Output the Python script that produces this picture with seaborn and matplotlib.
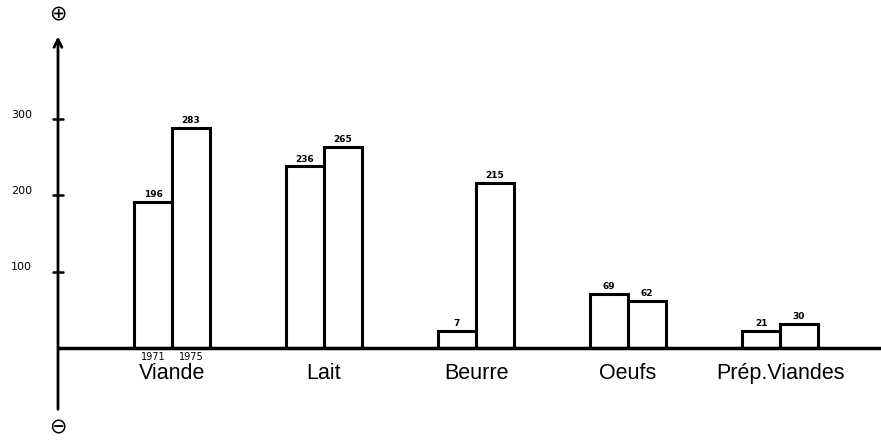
import pandas as pd
import seaborn as sns
import matplotlib.pyplot as plt

# values
categories = ["Viande", "Lait", "Beurre", "Oeufs", "Prép.Viandes"]
years = ["1971", "1975"]
heights_1971 = [192, 238, 22, 71, 22]
heights_1975 = [288, 264, 216, 62, 32]
labels_1971 = ["196", "236", "7", "69", "21"]
labels_1975 = ["283", "265", "215", "62", "30"]
y_ticks = [100, 200, 300]

df = pd.DataFrame({
    "cat": categories * 2,
    "year": [years[0]] * len(categories) + [years[1]] * len(categories),
    "val": heights_1971 + heights_1975,
})

sns.set_theme(style="white")
plt.rcParams["text.color"] = "black"
fig = plt.figure(figsize=(8.81, 4.42), dpi=100)
ax = fig.add_axes([0, 0, 1, 1])

sns.barplot(data=df, x="cat", y="val", hue="year", order=categories, hue_order=years,
            width=0.5, palette=["white", "white"], edgecolor="black", linewidth=2.2,
            legend=False, ax=ax)

ax.set_xlim(-172 / 152, 709 / 152)
ax.set_ylim(-94 / 0.763, 348 / 0.763)
ax.axis("off")

# value labels above bars
for container, labs in zip(ax.containers, [labels_1971, labels_1975]):
    ax.bar_label(container, labels=labs, padding=2, fontsize=6.5, fontweight="bold", color="black")

# axes drawn like the sketch
x_axis = -0.75
ax.plot([x_axis, 4.664], [0, 0], color="black", lw=2.5, solid_capstyle="butt")
ax.annotate("", xy=(x_axis, 412), xytext=(x_axis, -84),
            arrowprops=dict(arrowstyle="->", color="black", lw=2, mutation_scale=14))
for t in y_ticks:
    ax.plot([x_axis - 0.03, x_axis + 0.03], [t, t], color="black", lw=1.8)
    ax.text(x_axis - 0.24, t + 6, str(t), ha="center", va="center", fontsize=8)
ax.text(x_axis, 438, "⊕", ha="center", va="center", fontsize=15)
ax.text(x_axis, -104, "⊖", ha="center", va="center", fontsize=15)

# category names and year marks
for i, c in enumerate(categories):
    ax.text(i, -33, c, ha="center", va="center", fontsize=15.5, family="Liberation Sans")
ax.text(-0.125, -12, years[0], ha="center", va="center", fontsize=7)
ax.text(0.125, -12, years[1], ha="center", va="center", fontsize=7)

plt.savefig("out.png", dpi=100)
plt.close()
